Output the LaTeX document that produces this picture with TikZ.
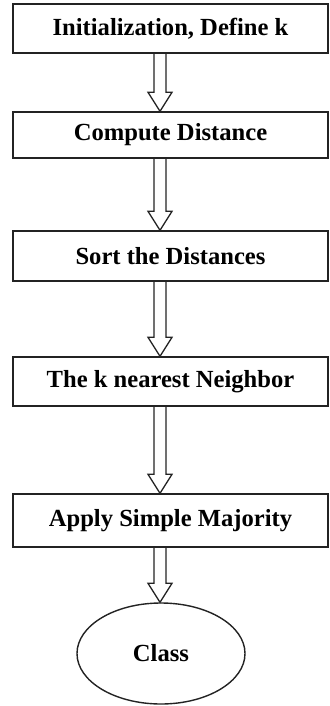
\documentclass[tikz,border=0pt]{standalone}
\usepackage{fontspec}
\setmainfont{Liberation Serif}
\usepackage{tikz}
\usepackage{xcolor}
\usetikzlibrary{calc}
\usetikzlibrary{shapes.geometric}

% hollow block arrow going down from one node to the next, on the line through (axis)
\newcommand{\flowarrow}[2]{%
	\draw[arrowline] ($(#1.south -| axis)+(-6,0)$) -- ($(#2.north -| axis)+(-6,19)$) -- ($(#2.north -| axis)+(-12,19)$) -- (#2.north -| axis) -- ($(#2.north -| axis)+(12,19)$) -- ($(#2.north -| axis)+(6,19)$) -- ($(#1.south -| axis)+(6,0)$);}

\begin{document}
\begin{tikzpicture}[x=1pt, y=1pt, every node/.style={font=\fontsize{24.6}{29}\selectfont\bfseries, inner sep=0pt}]
			\definecolor{LINE}{RGB}{35, 35, 35}
			\tikzset{box/.style={draw=LINE, line width=1.4pt, rectangle, minimum width=315pt}}
			\tikzset{arrowline/.style={draw=LINE, line width=1.3pt, line join=miter}}
			\useasboundingbox (0, 0) rectangle (329, -706);
			\node[box, minimum height=49pt] (init) at (170.5, -28.5) {Initialization, Define k};
			\node[box, minimum height=46pt] (distance) at (170.5, -135.0) {Compute Distance};
			\node[box, minimum height=50pt] (sorting) at (170.5, -256.0) {Sort the Distances};
			\node[box, minimum height=49pt] (neighbors) at (170.5, -381.5) {The k nearest Neighbor};
			\node[box, minimum height=53pt] (majority) at (170.5, -520.5) {Apply Simple Majority};
			\node[draw=LINE, line width=1.4pt, ellipse, minimum width=168pt, minimum height=101pt] (class) at (161.0, -653.5) {Class};
			\coordinate (axis) at (160.0, 0.0);
			\flowarrow{init}{distance}
			\flowarrow{distance}{sorting}
			\flowarrow{sorting}{neighbors}
			\flowarrow{neighbors}{majority}
			\flowarrow{majority}{class}
		\end{tikzpicture}
\end{document}
